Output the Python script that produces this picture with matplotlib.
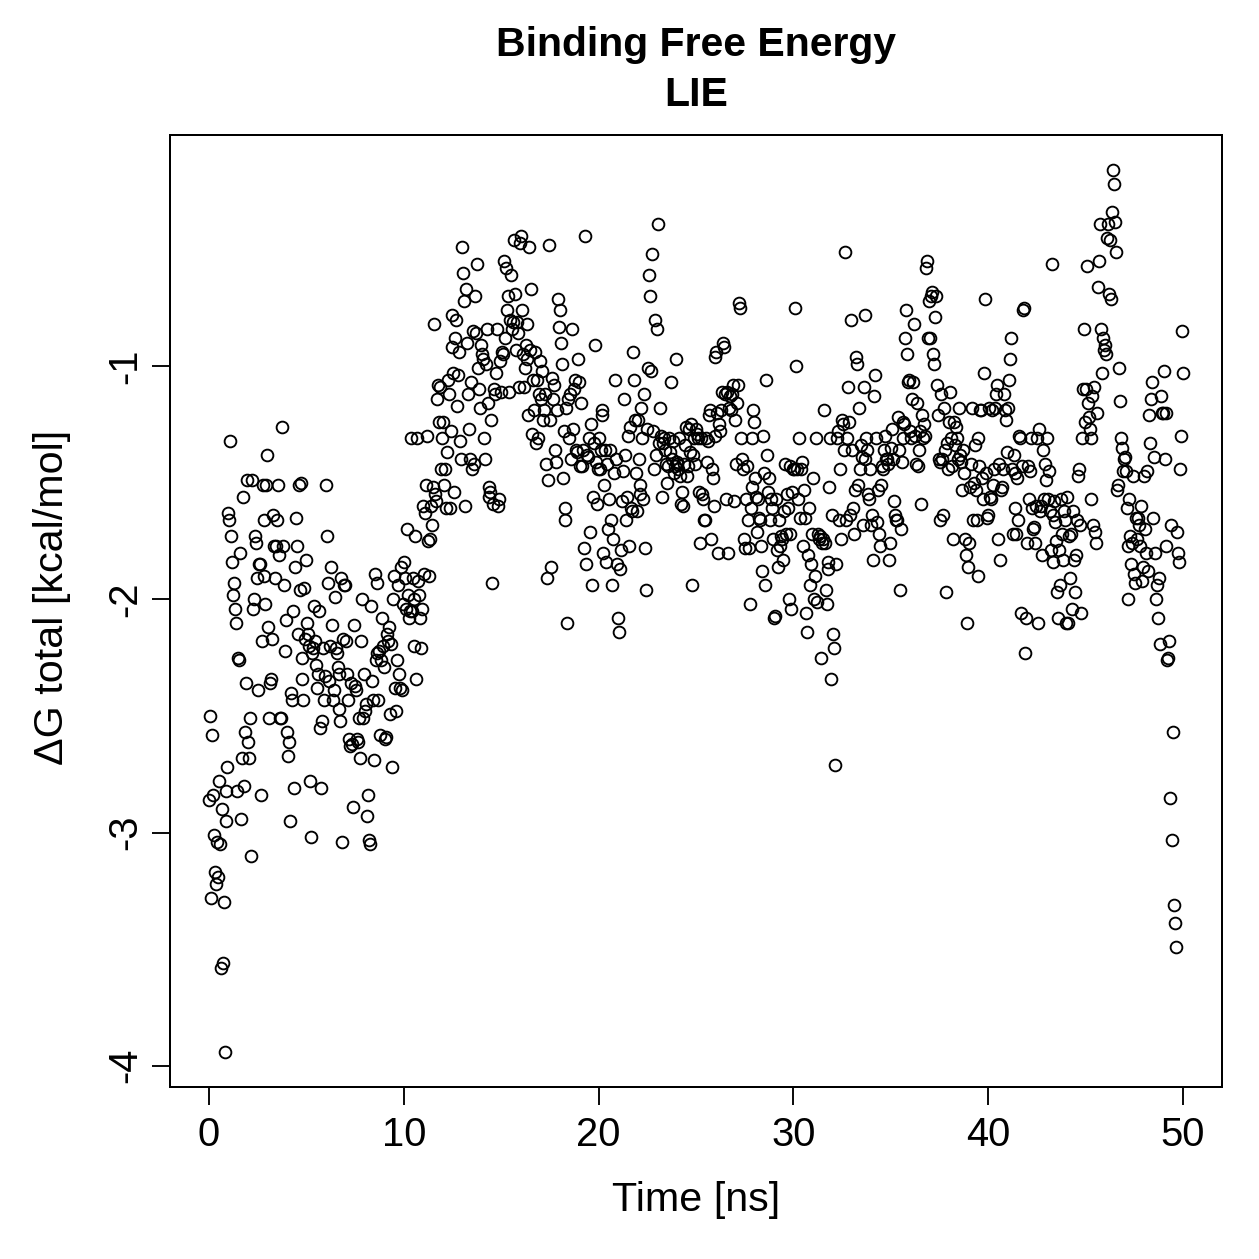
import numpy as np
import matplotlib.pyplot as plt

plt.rcParams['font.family'] = ['Liberation Sans', 'DejaVu Sans']
plt.rcParams['axes.unicode_minus'] = False

# dG total [kcal/mol] per frame (20 frames per ns)
dg_total = [
    # 0 ns
    -2.86, -2.50, -3.28, -2.58, -2.84, -3.01, -3.17, -3.22, -3.04, -3.19,
    -2.78, -3.05, -3.58, -2.90, -3.56, -3.30, -3.94, -2.82, -2.95, -2.72,
    # 1 ns
    -1.63, -1.66, -1.32, -1.73, -1.84, -1.98, -1.93, -2.04, -2.10, -2.82,
    -2.25, -2.26, -1.80, -2.94, -2.68, -1.56, -2.80, -2.57, -2.36, -1.49,
    # 2 ns
    -2.61, -2.68, -2.51, -3.10, -1.49, -2.04, -2.00, -1.73, -1.76, -1.91,
    -2.39, -1.85, -1.85, -2.84, -2.18, -1.51, -1.90, -1.66, -2.02, -1.51,
    # 3 ns
    -1.38, -2.12, -2.51, -2.36, -2.34, -2.17, -1.64, -1.77, -1.91, -1.77,
    -1.66, -1.51, -1.81, -2.51, -2.51, -1.26, -1.77, -1.94, -2.22, -2.09,
    # 4 ns
    -2.57, -2.67, -2.61, -2.95, -2.40, -2.43, -2.05, -2.81, -1.86, -1.65,
    -1.77, -2.15, -1.51, -1.96, -1.50, -2.25, -2.34, -2.43, -1.95, -2.17,
    # 5 ns
    -1.83, -2.10, -2.15, -2.20, -2.78, -3.02, -2.23, -2.21, -2.03, -2.18,
    -2.28, -2.38, -2.32, -2.05, -2.55, -2.81, -2.52, -2.21, -2.43, -2.33,
    # 6 ns
    -1.51, -1.73, -1.93, -2.35, -2.20, -1.86, -2.11, -2.43, -2.39, -1.99,
    -2.21, -2.23, -2.29, -2.47, -2.32, -2.52, -1.91, -3.04, -2.17, -1.94,
    # 7 ns
    -1.94, -2.18, -2.32, -2.43, -2.60, -2.63, -2.36, -2.62, -2.89, -2.11,
    -2.37, -2.39, -2.60, -2.61, -2.51, -2.68, -2.18, -2.00, -2.51, -2.32,
    # 8 ns
    -2.48, -2.45, -2.93, -2.84, -3.03, -3.05, -2.03, -2.35, -2.43, -2.69,
    -1.89, -2.26, -1.93, -2.23, -2.43, -2.22, -2.58, -2.26, -2.08, -2.20,
    # 9 ns
    -2.29, -2.60, -2.59, -2.15, -2.18, -2.12, -2.49, -2.19, -2.72, -2.00,
    -1.90, -2.38, -2.48, -2.26, -1.94, -2.32, -2.38, -1.86, -2.39, -2.02,
    # 10 ns
    -1.84, -1.91, -2.04, -1.70, -1.98, -2.08, -2.05, -1.31, -2.05, -1.91,
    -2.20, -2.00, -1.73, -2.34, -1.31, -1.92, -1.98, -2.08, -2.21, -2.04,
    # 11 ns
    -1.60, -1.89, -1.63, -1.51, -1.30, -1.75, -1.90, -1.74, -1.60, -1.68,
    -1.52, -0.82, -1.55, -1.58, -1.14, -1.08, -1.24, -1.09, -1.44, -1.31,
    # 12 ns
    -1.24, -1.51, -1.44, -1.61, -1.37, -1.06, -1.12, -1.61, -1.28, -0.92,
    -0.78, -1.03, -1.54, -0.88, -0.80, -1.17, -1.04, -0.94, -1.32, -1.40,
    # 13 ns
    -0.49, -0.60, -0.72, -1.60, -0.67, -0.90, -1.12, -1.27, -1.40, -1.07,
    -1.44, -0.85, -1.42, -0.70, -0.86, -0.56, -1.01, -1.10, -1.18, -0.91,
    # 14 ns
    -0.95, -0.97, -1.31, -1.40, -0.99, -0.84, -1.16, -1.52, -1.56, -1.54,
    -1.23, -1.93, -1.59, -1.10, -1.12, -1.03, -0.84, -1.60, -1.57, -0.98,
    # 15 ns
    -1.11, -0.94, -0.95, -0.55, -0.88, -0.58, -0.76, -0.70, -1.11, -0.80,
    -0.61, -0.84, -0.81, -0.46, -0.69, -0.93, -0.81, -0.86, -1.09, -0.47,
    # 16 ns
    -0.44, -0.76, -0.95, -1.09, -1.01, -0.91, -0.82, -0.97, -1.21, -0.49,
    -0.93, -0.67, -1.29, -1.06, -1.19, -0.94, -1.33, -1.06, -1.31, -1.12,
    # 17 ns
    -0.98, -1.14, -1.02, -1.23, -1.19, -1.12, -1.42, -1.91, -1.49, -0.48,
    -1.23, -1.86, -1.05, -1.14, -1.08, -1.36, -1.41, -1.19, -0.71, -0.83,
    # 18 ns
    -0.76, -0.90, -0.99, -1.48, -1.28, -1.66, -1.61, -1.18, -2.10, -1.14,
    -1.31, -1.12, -1.40, -0.84, -1.27, -1.10, -1.06, -1.36, -1.37, -0.97,
    # 19 ns
    -1.07, -1.43, -1.16, -1.43, -1.36, -1.78, -0.44, -1.85, -1.38, -1.39,
    -1.31, -1.71, -1.25, -1.94, -1.56, -1.33, -0.91, -1.41, -1.59, -1.44,
    # 20 ns
    -1.31, -1.44, -1.36, -1.21, -1.19, -1.80, -1.51, -1.36, -1.84, -1.42,
    -1.70, -1.57, -1.36, -1.66, -1.94, -1.74, -1.46, -1.06, -1.40, -1.85,
    # 21 ns
    -2.08, -2.14, -1.87, -1.79, -1.58, -1.45, -1.14, -1.38, -1.66, -1.56,
    -1.30, -1.77, -1.26, -1.61, -1.62, -0.94, -1.06, -1.23, -1.46, -1.62,
    # 22 ns
    -1.23, -1.40, -1.51, -1.55, -1.18, -1.31, -1.57, -1.12, -1.78, -1.96,
    -1.27, -1.01, -0.61, -0.70, -1.02, -0.52, -1.28, -1.44, -0.80, -1.38,
    # 23 ns
    -0.84, -0.39, -1.33, -1.18, -1.30, -1.56, -1.33, -1.31, -1.36, -1.42,
    -1.50, -1.43, -1.31, -1.37, -1.07, -1.40, -1.32, -1.46, -1.43, -0.97,
    # 24 ns
    -1.41, -1.42, -1.44, -1.31, -1.47, -1.59, -1.54, -1.60, -1.42, -1.34,
    -1.26, -1.47, -1.43, -1.27, -1.37, -1.25, -1.94, -1.38, -1.31, -1.42,
    # 25 ns
    -1.27, -1.29, -1.31, -1.54, -1.76, -1.31, -1.55, -1.57, -1.66, -1.66,
    -1.31, -1.41, -1.32, -1.21, -1.19, -1.74, -1.44, -1.48, -1.60, -1.30,
    # 26 ns
    -0.96, -0.94, -1.20, -1.80, -1.25, -1.28, -1.19, -1.11, -0.90, -0.92,
    -1.12, -1.57, -1.11, -1.80, -1.18, -1.13, -1.19, -1.12, -1.08, -1.58,
    # 27 ns
    -1.23, -1.42, -1.16, -1.08, -0.73, -0.75, -1.31, -1.40, -1.44, -1.74,
    -1.78, -1.57, -1.43, -1.66, -1.78, -2.02, -1.61, -1.52, -1.31, -1.19,
    # 28 ns
    -1.24, -1.48, -1.56, -1.71, -1.57, -1.65, -1.66, -1.77, -1.88, -1.30,
    -1.46, -1.94, -1.06, -1.38, -1.54, -1.48, -1.66, -1.57, -1.61, -1.74,
    # 29 ns
    -2.08, -2.07, -1.57, -1.79, -1.86, -1.66, -1.77, -1.73, -1.74, -1.83,
    -1.62, -1.42, -1.72, -1.55, -1.61, -2.00, -1.43, -1.72, -2.04, -1.54,
    # 30 ns
    -1.44, -1.44, -0.75, -1.00, -1.44, -1.57, -1.31, -1.65, -1.44, -1.41,
    -1.77, -1.53, -1.65, -2.06, -2.14, -1.81, -1.61, -1.94, -1.85, -1.72,
    # 31 ns
    -1.48, -2.00, -1.90, -1.31, -2.01, -1.72, -1.74, -1.73, -2.25, -1.76,
    -1.74, -1.19, -1.76, -1.96, -2.02, -1.84, -1.87, -1.52, -1.31, -2.34,
    # 32 ns
    -1.64, -2.15, -2.21, -2.71, -1.85, -1.31, -1.28, -1.66, -1.44, -1.74,
    -1.23, -1.25, -1.36, -0.51, -1.66, -1.31, -1.09, -1.24, -1.64, -0.80,
    # 33 ns
    -1.36, -1.61, -1.72, -1.53, -0.96, -0.99, -1.51, -1.18, -1.44, -1.34,
    -1.39, -1.68, -1.09, -0.78, -1.40, -1.31, -1.36, -1.55, -1.57, -1.44,
    # 34 ns
    -1.68, -1.64, -1.83, -1.13, -1.04, -1.31, -1.67, -1.53, -1.72, -1.77,
    -1.51, -1.43, -1.44, -1.36, -1.30, -1.40, -1.40, -1.42, -1.83, -1.76,
    # 35 ns
    -1.35, -1.27, -1.40, -1.58, -1.64, -1.66, -1.66, -1.22, -1.36, -1.96,
    -1.70, -1.41, -1.31, -1.24, -1.25, -0.88, -0.76, -0.95, -1.07, -1.06,
    # 36 ns
    -1.28, -1.31, -1.14, -1.07, -0.82, -1.30, -1.42, -1.16, -1.43, -1.36,
    -1.28, -1.59, -1.21, -1.31, -1.25, -1.30, -0.58, -0.55, -0.88, -0.72,
    # 37 ns
    -0.88, -0.70, -0.68, -0.95, -0.99, -0.79, -0.70, -1.08, -1.21, -1.40,
    -1.66, -1.41, -1.12, -1.40, -1.64, -1.18, -1.36, -1.97, -1.33, -1.44,
    # 38 ns
    -1.24, -1.11, -1.31, -1.43, -1.74, -1.24, -1.34, -1.26, -1.31, -1.40,
    -1.18, -1.38, -1.41, -1.53, -1.36, -1.46, -1.74, -1.81, -2.10, -1.86,
    # 39 ns
    -1.76, -1.52, -1.42, -1.18, -1.66, -1.50, -1.34, -1.53, -1.66, -1.31,
    -1.90, -1.43, -1.19, -1.19, -1.48, -1.57, -1.03, -0.71, -1.46, -1.65,
    # 40 ns
    -1.64, -1.18, -1.56, -1.57, -1.19, -1.51, -1.44, -1.18, -1.12, -1.08,
    -1.74, -1.42, -1.83, -1.53, -1.52, -1.44, -1.12, -1.19, -1.23, -1.37,
    # 41 ns
    -1.18, -1.06, -0.97, -0.88, -1.44, -1.72, -1.38, -1.46, -1.61, -1.72,
    -1.48, -1.66, -1.30, -1.31, -2.06, -1.43, -0.76, -0.75, -2.23, -2.08,
    # 42 ns
    -1.76, -1.43, -1.57, -1.45, -1.31, -1.61, -1.70, -1.69, -1.76, -1.60,
    -1.31, -2.10, -1.27, -1.62, -1.60, -1.81, -1.36, -1.57, -1.42, -1.49,
    # 43 ns
    -1.31, -1.57, -1.45, -1.62, -1.79, -0.56, -1.64, -1.84, -1.58, -1.67,
    -1.75, -1.97, -2.08, -1.79, -1.94, -1.57, -1.72, -1.83, -1.62, -1.66,
    # 44 ns
    -2.10, -1.56, -2.10, -1.73, -1.91, -1.72, -2.04, -1.62, -1.83, -1.97,
    -1.81, -1.66, -1.47, -1.44, -1.68, -2.06, -1.31, -1.10, -0.84, -1.24,
    # 45 ns
    -1.10, -0.57, -1.16, -1.22, -1.27, -1.31, -1.57, -1.13, -1.68, -1.09,
    -1.71, -1.76, -1.20, -0.66, -0.55, -0.39, -0.84, -1.03, -0.88, -0.93,
    # 46 ns
    -0.91, -0.95, -0.45, -0.39, -0.69, -0.46, -0.71, -0.34, -0.16, -0.22,
    -0.38, -0.51, -1.53, -1.51, -1.01, -1.15, -1.31, -1.35, -1.45, -1.40,
    # 47 ns
    -1.39, -1.45, -1.61, -2.00, -1.77, -1.57, -1.73, -1.85, -1.76, -1.47,
    -1.89, -1.93, -1.65, -1.74, -1.65, -1.68, -1.77, -1.60, -1.92, -1.86,
    # 48 ns
    -1.47, -1.70, -1.80, -1.45, -1.88, -1.21, -1.33, -1.14, -1.07, -1.65,
    -1.39, -1.80, -2.00, -1.94, -2.08, -1.91, -2.19, -1.13, -1.20, -1.20,
    # 49 ns
    -1.02, -1.40, -1.20, -1.77, -2.26, -2.25, -2.18, -2.85, -1.68, -3.03,
    -2.57, -3.31, -3.39, -3.49, -1.71, -1.80, -1.84, -1.44, -1.30, -0.85,
    # 50 ns
    -1.03,
]
time_ns = np.linspace(0, 50, len(dg_total))

W = 1259
fig = plt.figure(figsize=(W / 180, W / 180), dpi=180)
ax = fig.add_axes([170 / W, 172 / W, 1052 / W, 952 / W])

ax.plot(time_ns, dg_total, linestyle='none', marker='o', markersize=4.7,
        markerfacecolor='none', markeredgecolor='black', markeredgewidth=0.75)

# R-style 4% padding on both axes
ymin, ymax = min(dg_total), max(dg_total)
ypad = 0.04 * (ymax - ymin)
ax.set_xlim(-2, 52)
ax.set_ylim(ymin - ypad, ymax + ypad)

ax.set_xticks([0, 10, 20, 30, 40, 50])
ax.set_yticks([-4, -3, -2, -1])
ax.tick_params(length=7.2, width=0.75, labelsize=16, direction='out')
ax.tick_params(axis='x', pad=4.5)
ax.tick_params(axis='y', pad=3)
for lab in ax.get_yticklabels():
    lab.set_rotation(90)
    lab.set_va('center')
for sp in ax.spines.values():
    sp.set_linewidth(0.8)

fig.text(696 / W, 1 - 1200 / W, 'Time [ns]', ha='center', va='center', fontsize=16.5)
fig.text(52 / W, 1 - 597 / W, 'ΔG total [kcal/mol]', ha='center', va='center',
         rotation=90, fontsize=16.5)
fig.text(696 / W, 1 - 45 / W, 'Binding Free Energy', ha='center', va='center',
         fontsize=16.4, fontweight='bold')
fig.text(696 / W, 1 - 95 / W, 'LIE', ha='center', va='center',
         fontsize=16.4, fontweight='bold')

fig.savefig('out.png', dpi=180)
